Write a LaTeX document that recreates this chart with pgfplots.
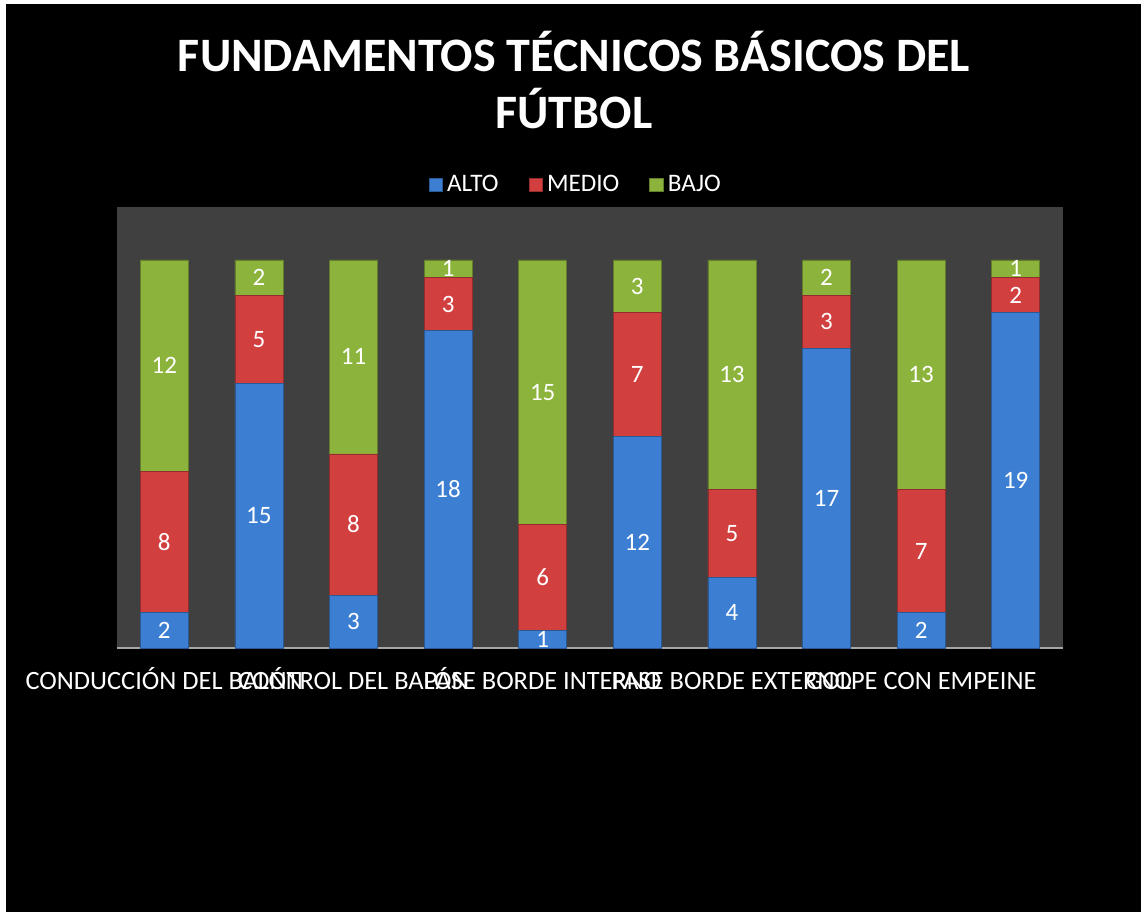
\documentclass[border=0pt]{standalone}
\usepackage{pgfplots}
\pgfplotsset{compat=1.18}
\usepackage{pgfplotstable}
\usepackage{fontspec}
\setmainfont{Carlito}
\definecolor{altoblue}{HTML}{3C7FD2}
\definecolor{mediored}{HTML}{D23F3F}
\definecolor{bajogreen}{HTML}{8CB43C}
\definecolor{plotgray}{HTML}{404040}

% alto / medio / bajo for the ten fundamentals
\pgfplotstableread{
x alto medio bajo
0 2  8 12
1 15 5 2
2 3  8 11
3 18 3 1
4 1  6 15
5 12 7 3
6 4  5 13
7 17 3 2
8 2  7 13
9 19 2 1
}\fundamentos

\begin{document}
\begin{tikzpicture}
\useasboundingbox (0,0) rectangle (572pt,456pt);
\fill[white] (0,0) rectangle (572pt,456pt);
\fill[black] (3pt,0pt) rectangle (570.5pt,454pt);
\node[text=white, font=\bfseries\fontsize{24}{28.5}\selectfont, align=center]
  at (287pt,416pt) {FUNDAMENTOS TÉCNICOS BÁSICOS DEL\\FÚTBOL};
\begin{axis}[
    at={(58.5pt,132pt)}, anchor=south west,
    scale only axis,
    width=473pt, height=220.5pt,
    ybar stacked,
    bar width=24pt,
    xmin=-0.5, xmax=9.5,
    ymin=0, ymax=25,
    axis background/.style={fill=plotgray},
    axis x line*=bottom,
    axis y line=none,
    axis line style={draw=gray!70, line width=0.8pt, -},
    xtick={0,2,4,6,8},
    xticklabels={CONDUCCIÓN DEL BALÓN, CONTROL DEL BALÓN, PASE BORDE INTERNO, PASE BORDE EXTERNO, GOLPE CON EMPEINE},
    xticklabel style={text=white, font=\fontsize{13.2}{15}\selectfont, anchor=base, yshift=-20.5pt},
    major tick length=0pt,
    ytick=\empty,
    /pgf/number format/assume math mode=true,
    point meta=explicit,
    nodes near coords,
    every node near coord/.append style={text=white, font=\fontsize{12.5}{14}\selectfont, anchor=center},
    legend columns=3,
    legend style={at={(0.486,1.05)}, anchor=center, draw=none, fill=none,
        text=white, font=\fontsize{12.6}{14}\selectfont,
        /tikz/every even column/.append style={column sep=13pt}},
    legend image code/.code={\fill[#1] (0pt,-3.4pt) rectangle (6.8pt,3.4pt);},
]
\addplot[fill=altoblue, draw=altoblue!70!black]
    table[x=x, y=alto, meta=alto] {\fundamentos};
\addplot[fill=mediored, draw=mediored!70!black]
    table[x=x, y=medio, meta=medio] {\fundamentos};
\addplot[fill=bajogreen, draw=bajogreen!70!black]
    table[x=x, y=bajo, meta=bajo] {\fundamentos};
\legend{ALTO, MEDIO, BAJO}
\end{axis}
\end{tikzpicture}
\end{document}
